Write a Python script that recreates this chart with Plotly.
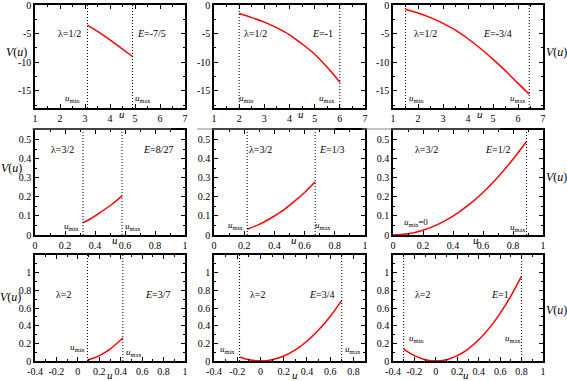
"""Effective potential V(u) panels for three values of lambda and three energies each."""

import plotly.graph_objects as go
from plotly.subplots import make_subplots

# curves, one pair of lists per panel
u_1 = [3.1, 3.5, 4.0, 4.5, 4.9]
v_1 = [-3.5, -4.6, -6.1, -7.7, -9.0]
u_2 = [2.0, 2.5, 3.0, 3.5, 4.0, 4.5, 5.0, 5.5, 6.0]
v_2 = [-1.5, -2.2, -3.0, -4.0, -5.2, -6.8, -8.6, -10.9, -13.5]
u_3 = [1.5, 2.0, 2.5, 3.0, 3.5, 4.0, 4.5, 5.0, 5.5, 6.0, 6.45]
v_3 = [-0.8, -1.4, -2.2, -3.2, -4.4, -5.9, -7.6, -9.5, -11.5, -13.7, -15.6]
u_4 = [0.32, 0.37, 0.42, 0.47, 0.52, 0.58]
v_4 = [0.064, 0.085, 0.11, 0.137, 0.165, 0.205]
u_5 = [0.22, 0.30, 0.37, 0.45, 0.52, 0.60, 0.67]
v_5 = [0.03, 0.056, 0.085, 0.125, 0.168, 0.223, 0.279]
u_6 = [0.0, 0.1, 0.2, 0.3, 0.4, 0.5, 0.6, 0.7, 0.8, 0.89]
v_6 = [0.0, 0.006, 0.025, 0.056, 0.099, 0.155, 0.223, 0.304, 0.397, 0.49]
u_7 = [0.09, 0.15, 0.2, 0.25, 0.3, 0.35, 0.42]
v_7 = [0.012, 0.034, 0.06, 0.094, 0.135, 0.184, 0.26]
u_8 = [-0.18, -0.1, 0.0, 0.1, 0.2, 0.3, 0.4, 0.5, 0.6, 0.7]
v_8 = [0.045, 0.014, 0.0, 0.014, 0.056, 0.126, 0.224, 0.35, 0.504, 0.686]
u_9 = [-0.3, -0.2, -0.1, 0.0, 0.1, 0.2, 0.3, 0.4, 0.5, 0.6, 0.7, 0.8]
v_9 = [0.135, 0.06, 0.015, 0.0, 0.015, 0.06, 0.135, 0.24, 0.375, 0.54, 0.735, 0.96]

curves_u = [u_1, u_2, u_3, u_4, u_5, u_6, u_7, u_8, u_9]
curves_v = [v_1, v_2, v_3, v_4, v_5, v_6, v_7, v_8, v_9]

# turning points (None = no dotted line drawn)
u_min = [3.1, 2.0, 1.5, 0.32, 0.22, None, 0.09, -0.18, -0.3]
u_max = [4.9, 6.0, 6.45, 0.58, 0.67, 0.89, 0.42, 0.7, 0.8]

lambda_labels = ["1/2", "1/2", "1/2", "3/2", "3/2", "3/2", "2", "2", "2"]
energy_labels = ["-7/5", "-1", "-3/4", "8/27", "1/3", "1/2", "3/7", "3/4", "1"]

x_ranges = [[1, 7]] * 3 + [[0, 1]] * 3 + [[-0.4, 1], [-0.4, 0.9], [-0.4, 1]]
y_ranges = [[-18, 0]] * 3 + [[0, 0.55]] * 3 + [[0, 1.2]] * 3
x_ticks = [[1, 2, 3, 4, 5, 6, 7]] * 3 + [[0, 0.2, 0.4, 0.6, 0.8, 1]] * 3 + [
    [-0.4, -0.2, 0, 0.2, 0.4, 0.6, 0.8, 1]] * 3
y_ticks = [[0, -5, -10, -15]] * 3 + [[0, 0.1, 0.2, 0.3, 0.4, 0.5]] * 3 + [
    [0, 0.2, 0.4, 0.6, 0.8, 1]] * 3
x_minor = [0.5] * 3 + [0.1] * 6
y_minor = [2.5] * 3 + [0.05] * 3 + [0.1] * 3

# label positions in data units
text_y = [-5] * 3 + [0.45] * 3 + [0.75] * 3
lambda_x = [2.36, 2.63, 2.28, 0.18, 0.31, 0.22, -0.13, -0.02, -0.12]
energy_x = [5.64, 5.33, 5.16, 0.82, 0.78, 0.70, 0.75, 0.53, 0.60]
umin_pos = [(2.5, -16.4), (2.3, -16.3), (1.93, -16.3), (0.24, 0.047), (0.145, 0.05),
            (0.15, 0.064), (-0.007, 0.15), (-0.28, 0.13), (-0.18, 0.25)]
umax_pos = [(5.3, -16.4), (5.47, -16.3), (5.99, -16.3), (0.65, 0.045), (0.72, 0.05),
            (0.83, 0.04), (0.525, 0.095), (0.8, 0.13), (0.72, 0.25)]
u_label_x = [4.47] * 3 + [0.53, 0.53, 0.55] + [0.3, 0.3, 0.28]

W, H = 567, 381
col_px = [(35, 185), (214, 365), (393, 543)]
row_px = [(5, 108), (130, 235), (255, 361)]

FONT = "Liberation Serif"


def fmt(v):
    """Tick text with a plain hyphen for negatives."""
    return f"{v:g}"


def axis_style(domain, rng, ticks, minor_step):
    """Gnuplot-like boxed axis: inside ticks on all four sides."""
    return dict(
        domain=domain,
        range=rng,
        tickvals=ticks,
        ticktext=[fmt(v) for v in ticks],
        ticks="inside",
        ticklen=4,
        tickwidth=1,
        tickcolor="black",
        minor=dict(dtick=minor_step, tick0=0, ticks="inside", ticklen=2.5,
                   tickcolor="black"),
        showline=True,
        linecolor="black",
        linewidth=1.5,
        mirror="allticks",
        showgrid=False,
        zeroline=False,
        automargin=False,
        ticklabeloverflow="allow",
        tickfont=dict(family=FONT, size=10, color="black"),
    )


fig = make_subplots(rows=3, cols=3)

for i in range(9):
    r, c = i // 3 + 1, i % 3 + 1
    fig.add_trace(
        go.Scatter(
            x=curves_u[i],
            y=curves_v[i],
            mode="lines",
            line=dict(color="#ff0000", width=1.5, shape="spline"),
            showlegend=False,
            hoverinfo="x+y",
        ),
        row=r,
        col=c,
    )
    for xv in (u_min[i], u_max[i]):
        if xv is not None:
            fig.add_trace(
                go.Scatter(
                    x=[xv, xv],
                    y=y_ranges[i],
                    mode="lines",
                    line=dict(color="black", width=1, dash="1px,2px"),
                    showlegend=False,
                    hoverinfo="skip",
                ),
                row=r,
                col=c,
            )

    x0, x1 = col_px[c - 1]
    y0, y1 = row_px[r - 1]
    fig.update_xaxes(axis_style([x0 / W, x1 / W], x_ranges[i], x_ticks[i], x_minor[i]),
                     row=r, col=c)
    fig.update_yaxes(axis_style([1 - y1 / H, 1 - y0 / H], y_ranges[i], y_ticks[i], y_minor[i]),
                     row=r, col=c)

    xref = "x" if i == 0 else f"x{i + 1}"
    yref = "y" if i == 0 else f"y{i + 1}"
    small = dict(family=FONT, size=10, color="black")
    sub = dict(family=FONT, size=9, color="black")
    fig.add_annotation(x=lambda_x[i], y=text_y[i], xref=xref, yref=yref,
                       text=f"λ={lambda_labels[i]}", showarrow=False, font=small)
    fig.add_annotation(x=energy_x[i], y=text_y[i], xref=xref, yref=yref,
                       text=f"<i>E</i>={energy_labels[i]}", showarrow=False, font=small)
    umin_text = "<i>u</i><sub>min</sub>=0" if u_min[i] is None else "<i>u</i><sub>min</sub>"
    fig.add_annotation(x=umin_pos[i][0], y=umin_pos[i][1], xref=xref, yref=yref,
                       text=umin_text, showarrow=False, font=sub)
    fig.add_annotation(x=umax_pos[i][0], y=umax_pos[i][1], xref=xref, yref=yref,
                       text="<i>u</i><sub>max</sub>", showarrow=False, font=sub)
    # x-axis title sits among the tick labels
    u_y_px = [114, 240, 375][r - 1]
    fig.add_annotation(x=u_label_x[i], y=1 - u_y_px / H, xref=xref, yref="paper",
                       text="<i>u</i>", showarrow=False, xanchor="center", yanchor="middle",
                       font=dict(family=FONT, size=11, color="black"))

# V(u) titles on the outer sides
for x_px, y_px in ((16, 52), (11, 168), (10, 297)):
    fig.add_annotation(x=x_px / W, y=1 - y_px / H, xref="paper", yref="paper",
                       text="<i>V</i>(<i>u</i>)", showarrow=False,
                       xanchor="center", yanchor="middle",
                       font=dict(family=FONT, size=12, color="black"))
for y_px in (52, 177, 310):
    fig.add_annotation(x=556 / W, y=1 - y_px / H, xref="paper", yref="paper",
                       text="<i>V</i>(<i>u</i>)", showarrow=False,
                       xanchor="center", yanchor="middle",
                       font=dict(family=FONT, size=12, color="black"))

# thin grey rules left under the top row
for a, b in ((32, 171), (197, 335), (362, 500)):
    fig.add_shape(type="line", xref="paper", yref="paper",
                  x0=a / W, x1=b / W, y0=1 - 129 / H, y1=1 - 129 / H,
                  line=dict(color="#888888", width=1))

fig.update_layout(
    width=W,
    height=H,
    margin=dict(l=0, r=0, t=0, b=0),
    paper_bgcolor="white",
    plot_bgcolor="white",
    font=dict(family=FONT, color="black"),
)

# drop the browser's default body margin so the 567x381 figure fits exactly
fig.write_html("out.html", config={"displayModeBar": False},
               post_script="document.body.style.margin='0';")
